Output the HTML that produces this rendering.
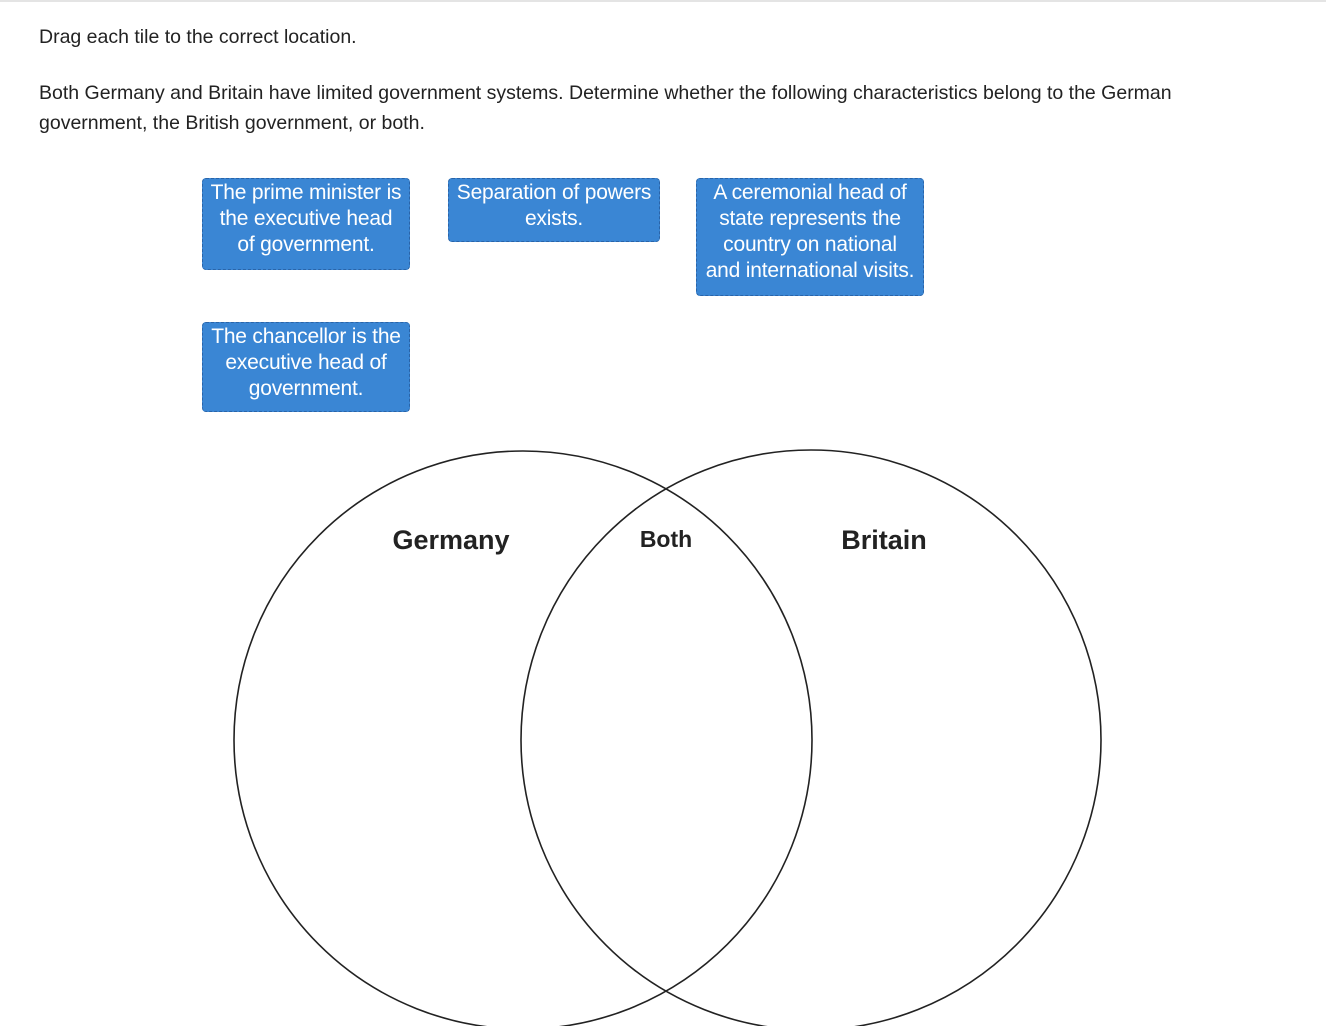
<!DOCTYPE html>
<html><head><meta charset="utf-8"><style>
body{margin:0;width:1336px;height:1026px;background:#fff;position:relative;overflow:hidden;font-family:"Liberation Sans",sans-serif;}
.topline{position:absolute;left:0;top:0;width:1326px;height:2px;background:#e4e4e4;}
.t{position:absolute;left:39px;font-size:19.5px;color:#222;line-height:30px;}
.tile{position:absolute;background:#3a86d4;border:1px dashed #2a64a8;border-radius:4px;color:#fff;font-size:21px;line-height:26px;text-align:center;box-sizing:border-box;padding-top:1px;white-space:nowrap;letter-spacing:-0.2px;}
svg{position:absolute;left:0;top:0;}
</style></head><body>
<div class="topline"></div>
<div class="t" style="top:22px">Drag each tile to the correct location.</div>
<div class="t" style="top:78px;width:1165px">Both Germany and Britain have limited government systems. Determine whether the following characteristics belong to the German government, the British government, or both.</div>
<div class="tile" style="left:202px;top:178px;width:208px;height:92px">The prime minister is<br>the executive head<br>of government.</div>
<div class="tile" style="left:448px;top:178px;width:212px;height:64px">Separation of powers<br>exists.</div>
<div class="tile" style="left:696px;top:178px;width:228px;height:118px">A ceremonial head of<br>state represents the<br>country on national<br>and international visits.</div>
<div class="tile" style="left:202px;top:322px;width:208px;height:90px">The chancellor is the<br>executive head of<br>government.</div>
<svg width="1336" height="1026">
<circle cx="523" cy="740" r="289" fill="none" stroke="#222" stroke-width="1.6"/>
<circle cx="811" cy="740" r="290" fill="none" stroke="#222" stroke-width="1.6"/>
<text x="451" y="549" font-family="Liberation Sans" font-weight="bold" font-size="27" text-anchor="middle" fill="#222">Germany</text>
<text x="666" y="547" font-family="Liberation Sans" font-weight="bold" font-size="23" text-anchor="middle" fill="#222">Both</text>
<text x="884" y="549" font-family="Liberation Sans" font-weight="bold" font-size="27" text-anchor="middle" fill="#222">Britain</text>
</svg>
</body></html>
